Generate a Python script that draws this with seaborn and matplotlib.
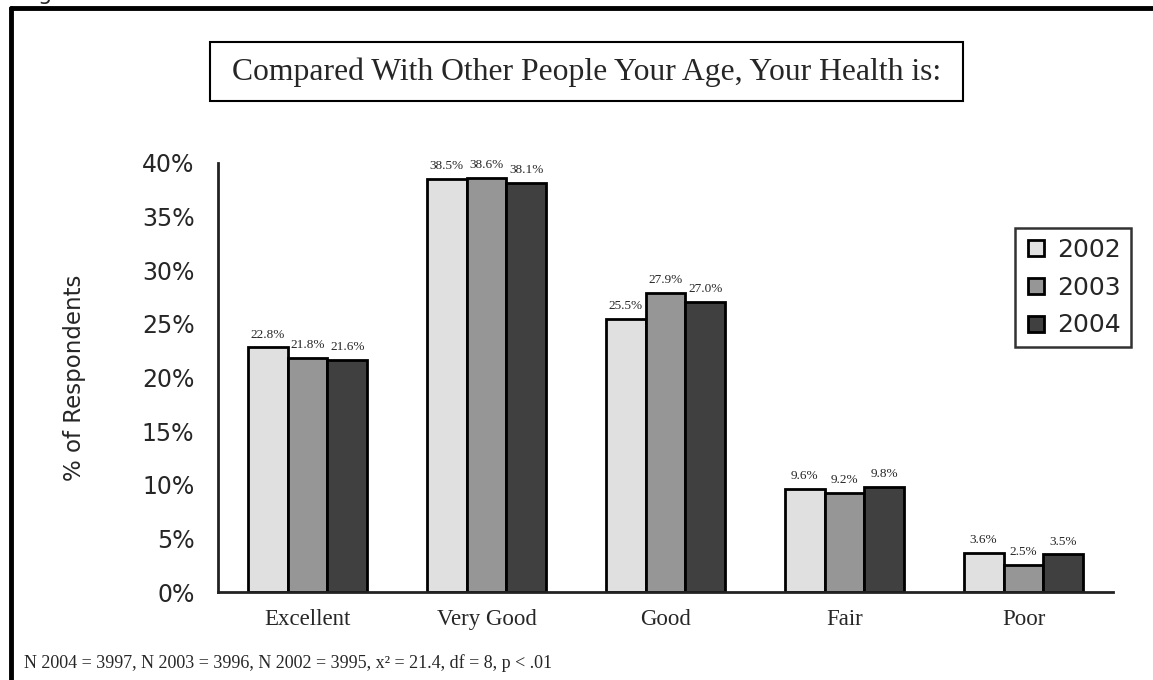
import numpy as np
import pandas as pd
import seaborn as sns
import matplotlib
matplotlib.use("Agg")
import matplotlib.pyplot as plt
from matplotlib.lines import Line2D
from matplotlib.patches import Rectangle

# datos
categorias = ["Excellent", "Very Good", "Good", "Fair", "Poor"]
anios = ["2002", "2003", "2004"]
valores_2002 = [22.8, 38.5, 25.5, 9.6, 3.6]
valores_2003 = [21.8, 38.6, 27.9, 9.2, 2.5]
valores_2004 = [21.6, 38.1, 27.0, 9.8, 3.5]
colores = ["#e0e0e0", "#969696", "#404040"]
titulo = "Compared With Other People Your Age, Your Health is:"
nota = "N 2004 = 3997, N 2003 = 3996, N 2002 = 3995, x\u00b2 = 21.4, df = 8, p < .01"

sns.set_style("white")
plt.rcParams['font.family'] = ['DejaVu Sans']
serif = ['Liberation Serif', 'DejaVu Serif']

datos = pd.DataFrame({
    'categoria': categorias * 3,
    'anio': [a for a in anios for _ in categorias],
    'valor': valores_2002 + valores_2003 + valores_2004,
})

fig = plt.figure(figsize=(11.53, 6.8), dpi=100)
ax = fig.add_axes([218 / 1153, 1 - 592 / 680, (1113 - 218) / 1153, (592 - 163) / 680])

sns.barplot(data=datos, x='categoria', y='valor', hue='anio', order=categorias,
            hue_order=anios, palette=colores, width=0.67, gap=0, saturation=1,
            edgecolor='black', linewidth=2, ax=ax, legend=False)

for cont in ax.containers:
    ax.bar_label(cont, fmt='%.1f%%', padding=5, fontsize=9.5, family=serif)

ax.set_ylim(0, 40)
ax.set_xlim(-0.5, 4.5)
ax.set_yticks(np.arange(0, 41, 5))
ax.set_yticklabels([f"{v}%" for v in range(0, 41, 5)], fontsize=17)
ax.set_xticks(range(5))
ax.set_xticklabels(categorias, family=serif, fontsize=16.5)
ax.set_xticks(np.arange(-0.5, 4.6, 1), minor=True)
ax.tick_params(axis='x', which='major', length=0, pad=12)
ax.tick_params(axis='x', which='minor', length=6, width=2, direction='out', color='#222222')
ax.tick_params(axis='y', length=7, width=2, direction='out', color='#222222', pad=10)
ax.set_xlabel("")
ax.set_ylabel("% of Respondents", fontsize=16.5)
ax.yaxis.set_label_coords((86 - 218) / 895, 0.5)
sns.despine(ax=ax, top=True, right=True)
for lado in ['left', 'bottom']:
    ax.spines[lado].set_linewidth(2)
    ax.spines[lado].set_color('#222222')

manejadores = [Line2D([], [], marker='s', linestyle='none', markersize=11,
                      markerfacecolor=c, markeredgecolor='black', markeredgewidth=2)
               for c in colores]
leg = fig.legend(manejadores, anios, loc='upper right',
                 bbox_to_anchor=(1131 / 1153, 1 - 228 / 680), fontsize=18,
                 frameon=True, fancybox=False, edgecolor='black', handletextpad=0.4,
                 labelspacing=0.55, borderpad=0.4, handlelength=0.9, borderaxespad=0)
leg.get_frame().set_linewidth(1.8)

# caja del titulo
fig.patches.append(Rectangle((210 / 1153, 1 - 101 / 680), 753 / 1153, 59 / 680,
                             transform=fig.transFigure, fill=False, edgecolor='black',
                             linewidth=1.5))
fig.text((210 + 963) / 2 / 1153, 1 - 72 / 680, titulo, ha='center', va='center',
         fontsize=22.8, family=serif)

# marco exterior
fig.add_artist(Line2D([11 / 1153, 1.0], [1 - 8 / 680, 1 - 8 / 680],
                      transform=fig.transFigure, color='black', linewidth=3.5))
fig.add_artist(Line2D([11 / 1153, 11 / 1153], [0, 1 - 8 / 680],
                      transform=fig.transFigure, color='black', linewidth=3.5))
fig.text(38 / 1153, 1.0, "g", ha='left', va='baseline', fontsize=16)

fig.text(24 / 1153, 1 - 663 / 680, nota, ha='left', va='center', fontsize=13, family=serif)

plt.savefig('out.png', dpi=100)
